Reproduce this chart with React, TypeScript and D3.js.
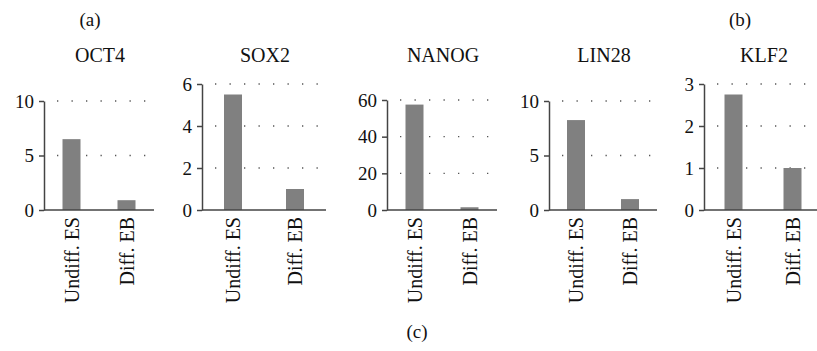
import React, { useRef, useEffect } from 'react';
import * as d3 from 'd3';

const genes = ['OCT4', 'SOX2', 'NANOG', 'LIN28', 'KLF2'];
const categories = ['Undiff. ES', 'Diff. EB'];
const undiffES = [6.5, 5.5, 57.5, 8.25, 2.75];
const diffEB = [0.9, 1.0, 1.5, 1.0, 1.0];
const yMax = [10, 6, 60, 10, 3];
const tickStep = [5, 2, 20, 5, 1];

// panel layout (axis x, panel width, top of y range)
const panelX = [44, 202, 387, 549, 704];
const panelW = [110, 124, 110, 108, 118];
const panelTop = [101, 84, 100, 101, 84];
const baseY = 210;

const FONT = '"Liberation Serif", "Times New Roman", serif';

const App = () => {
  const svgRef = useRef<SVGSVGElement>(null);

  useEffect(() => {
    const svg = d3.select(svgRef.current);
    svg.selectAll('*').remove();

    const txt = (x: number, y: number, s: string, size = 19) =>
      svg
        .append('text')
        .attr('x', x)
        .attr('y', y)
        .attr('text-anchor', 'middle')
        .attr('font-family', FONT)
        .attr('font-size', size)
        .attr('fill', '#111')
        .text(s);

    txt(90, 26, '(a)');
    txt(740, 26, '(b)');
    txt(417, 338, '(c)');

    genes.forEach((gene, i) => {
      const x0 = panelX[i];
      const x1 = x0 + panelW[i];
      const y = d3.scaleLinear().domain([0, yMax[i]]).range([baseY, panelTop[i]]);
      const x = d3.scaleBand().domain(categories).range([x0, x1]);
      const ticks = d3.range(0, yMax[i] + tickStep[i] / 2, tickStep[i]);
      const vals = [undiffES[i], diffEB[i]];

      const g = svg.append('g');

      txt((x0 + x1) / 2 + 1, 62, gene, 20);

      // dotted gridlines
      g.selectAll('line.grid')
        .data(ticks.filter((t) => t > 0))
        .join('line')
        .attr('x1', x0 + 13)
        .attr('x2', x1)
        .attr('y1', (d) => y(d))
        .attr('y2', (d) => y(d))
        .attr('stroke', '#555')
        .attr('stroke-width', 1.3)
        .attr('stroke-dasharray', '1.3 13.2');

      // bars
      g.selectAll('rect')
        .data(vals)
        .join('rect')
        .attr('x', (_d, j) => x(categories[j])! + x.bandwidth() / 2 - 9)
        .attr('width', 18)
        .attr('y', (d) => y(d))
        .attr('height', (d) => baseY - y(d))
        .attr('fill', '#808080');

      // y axis
      const ax = g
        .append('g')
        .attr('transform', `translate(${x0},0)`)
        .call(
          d3
            .axisLeft(y)
            .tickValues(ticks)
            .tickFormat(d3.format('d'))
            .tickSize(5)
            .tickSizeOuter(0)
            .tickPadding(5),
        );
      ax.select('.domain').attr('stroke', '#444').attr('stroke-width', 1.5);
      ax.selectAll('.tick line').attr('stroke', '#444').attr('stroke-width', 1.5);
      ax.selectAll('.tick text')
        .attr('font-family', FONT)
        .attr('font-size', 19)
        .attr('fill', '#111');

      // baseline
      g.append('line')
        .attr('x1', x0)
        .attr('x2', x1)
        .attr('y1', baseY)
        .attr('y2', baseY)
        .attr('stroke', '#444')
        .attr('stroke-width', 1.5);

      // rotated category labels
      g.selectAll('text.cat')
        .data(categories)
        .join('text')
        .attr('class', 'cat')
        .attr('transform', (d) => `translate(${x(d)! + x.bandwidth() / 2},217) rotate(-90)`)
        .attr('dy', '0.35em')
        .attr('text-anchor', 'end')
        .attr('font-family', FONT)
        .attr('font-size', 20)
        .attr('fill', '#111')
        .text((d) => d);
    });
  }, []);

  return (
    <svg
      ref={svgRef}
      width={817}
      height={351}
      style={{ position: 'absolute', left: 0, top: 0, background: '#fff' }}
    />
  );
};

export default App;
